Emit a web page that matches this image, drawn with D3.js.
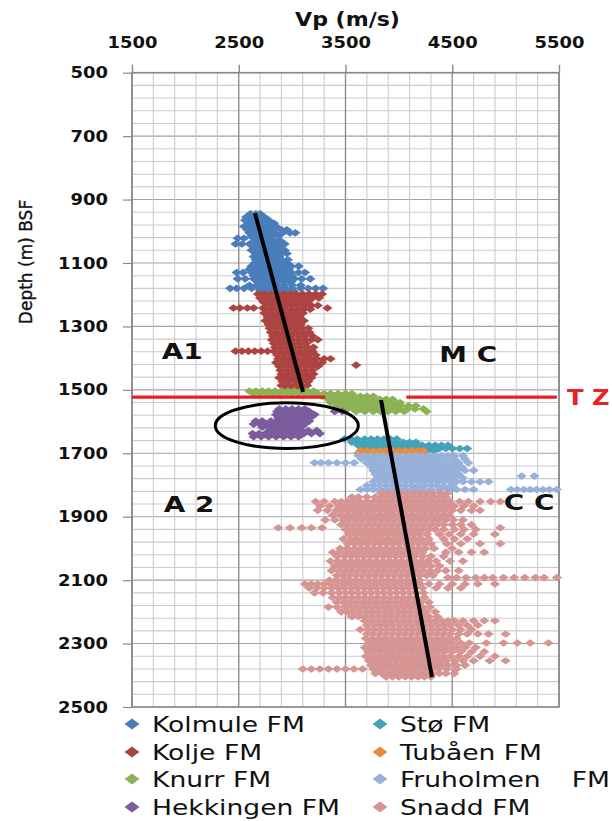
<!DOCTYPE html>
<html>
<head>
<meta charset="utf-8">
<script src="https://cdn.jsdelivr.net/npm/d3@7"></script>
<style>
  html, body { margin: 0; padding: 0; background: #fff; }
  svg { display: block; }
</style>
</head>
<body>
<svg id="chart" width="612" height="821"></svg>
<script>
// P-wave velocity against depth below sea floor, one array per formation.
// Each row: [depth (m BSF), [Vp samples (m/s) logged at that depth]]
const kolmule = [
  [945, [2610, 2660, 2700]],
  [955, [2570, 2630, 2690, 2740]],
  [965, [2560, 2610, 2670, 2720, 2780]],
  [975, [2590, 2650, 2700, 2760, 2830]],
  [985, [2550, 2610, 2660, 2720, 2790, 2850]],
  [995, [2580, 2640, 2700, 2760, 2820, 2900, 2950]],
  [1005, [2600, 2660, 2720, 2780, 2840, 2910, 2980, 3030]],
  [1015, [2620, 2680, 2740, 2800, 2870]],
  [1022, [2490, 2550, 2640, 2700, 2760]],
  [1030, [2650, 2710, 2770, 2830, 2890]],
  [1040, [2470, 2530, 2600, 2690, 2750, 2810, 2870, 2930]],
  [1050, [2640, 2700, 2760, 2820, 2880]],
  [1060, [2620, 2680, 2740, 2800, 2860, 2930]],
  [1070, [2660, 2720, 2780, 2840, 2900, 2950]],
  [1080, [2640, 2700, 2760, 2820, 2880]],
  [1090, [2660, 2720, 2780, 2840, 2900, 2960]],
  [1100, [2650, 2710, 2770, 2830, 2890, 2950]],
  [1110, [2620, 2680, 2740, 2800, 2860, 2920, 2990, 3060]],
  [1120, [2600, 2660, 2720, 2780, 2840, 2900, 2970]],
  [1130, [2480, 2540, 2620, 2680, 2740, 2800, 2860, 2920, 2990, 3060, 3120]],
  [1140, [2640, 2700, 2760, 2820, 2880, 2940, 3000]],
  [1150, [2490, 2560, 2640, 2710, 2770, 2830, 2890, 2950, 3020, 3090, 3170]],
  [1160, [2680, 2740, 2800, 2860, 2920, 2990]],
  [1170, [2600, 2670, 2740, 2800, 2860, 2930, 3000, 3080]],
  [1180, [2420, 2480, 2550, 2620, 2690, 2750, 2810, 2870, 2930, 3000, 3080, 3150, 3220, 3290]],
  [1188, [2700, 2760, 2820, 2880, 2940, 3010]]
];

const kolje = [
  [1198, [2680, 2740, 2800, 2860, 2920, 2980, 3040, 3100, 3160, 3220, 3280]],
  [1210, [2700, 2760, 2820, 2880, 2940, 3000, 3060, 3120, 3190, 3250]],
  [1222, [2730, 2790, 2850, 2910, 2970, 3030, 3090, 3150]],
  [1234, [2760, 2820, 2880, 2940, 3000, 3060, 3120, 3180, 3240]],
  [1242, [2450, 2510, 2580, 2640, 2730, 3330]],
  [1246, [2750, 2810, 2870, 2930, 2990, 3050, 3110, 3170]],
  [1258, [2740, 2800, 2860, 2920, 2980, 3040, 3100]],
  [1270, [2770, 2830, 2890, 2950, 3010, 3070]],
  [1282, [2750, 2810, 2870, 2930, 2990, 3050, 3110]],
  [1294, [2780, 2840, 2900, 2960, 3020, 3080]],
  [1306, [2790, 2850, 2910, 2970, 3030, 3090, 3150]],
  [1318, [2800, 2860, 2920, 2980, 3040, 3100, 3160]],
  [1330, [2820, 2880, 2940, 3000, 3060, 3120, 3190]],
  [1342, [2810, 2870, 2930, 3000, 3060, 3120, 3180, 3240]],
  [1354, [2830, 2890, 2950, 3010, 3070, 3130]],
  [1366, [2840, 2900, 2960, 3020, 3080, 3140, 3200]],
  [1378, [2470, 2530, 2590, 2650, 2710, 2770, 2830, 2890, 2950, 3010, 3070, 3130, 3190]],
  [1390, [2860, 2920, 2980, 3040, 3100, 3160, 3220]],
  [1402, [2870, 2930, 2990, 3050, 3110, 3170, 3230, 3300, 3360]],
  [1414, [2850, 2910, 2970, 3030, 3090, 3150, 3210, 3280]],
  [1422, [3600]],
  [1426, [2880, 2940, 3000, 3060, 3120, 3180, 3240]],
  [1438, [2890, 2950, 3010, 3070, 3130, 3190]],
  [1450, [2900, 2960, 3020, 3080, 3140, 3200]],
  [1462, [2880, 2940, 3000, 3060, 3120, 3180]],
  [1474, [2910, 2970, 3030, 3090, 3150]],
  [1486, [2900, 2960, 3020, 3080, 3140]],
  [1498, [2930, 2990, 3050, 3110]]
];

const knurr = [
  [1504, [2600, 2660, 2720, 2780, 2840, 2900, 2960, 3020, 3080, 3140, 3200]],
  [1512, [2640, 2700, 2760, 2820, 2880, 2940, 3000, 3060, 3120, 3180, 3240, 3300, 3360, 3430, 3500, 3560]],
  [1520, [3280, 3340, 3400, 3460, 3520, 3580, 3640, 3700, 3760]],
  [1530, [3340, 3400, 3460, 3520, 3580, 3640, 3700, 3760, 3820, 3880, 3940]],
  [1540, [3360, 3420, 3480, 3540, 3600, 3660, 3720, 3780, 3840, 3900, 3960, 4010]],
  [1550, [3420, 3480, 3540, 3600, 3660, 3720, 3780, 3840, 3900, 3960, 4020, 4090, 4160]],
  [1560, [3460, 3520, 3580, 3640, 3700, 3760, 3820, 3880, 3940, 4010, 4080, 4150, 4230]],
  [1568, [3600, 3680, 3760, 3830, 3900, 3970, 4050, 4260]]
];

const hekkingen = [
  [1560, [2880, 2940, 3000, 3060, 3120]],
  [1568, [2860, 2920, 2980, 3040, 3100, 3160, 3400, 3470]],
  [1578, [2850, 2910, 2970, 3030, 3090, 3150, 3210]],
  [1588, [2870, 2930, 2990, 3050, 3110, 3170]],
  [1598, [2660, 2720, 2800, 2860, 2920, 2980, 3040, 3100, 3160]],
  [1608, [2640, 2700, 2760, 2820, 2880, 2940, 3000, 3060, 3120]],
  [1618, [2720, 2780, 2840, 2900, 2960, 3020, 3080]],
  [1628, [2790, 2850, 2910, 2970, 3030, 3090, 3150, 3230]],
  [1638, [2630, 2690, 2750, 2810, 2870, 2930, 2990, 3050, 3110, 3180, 3260]],
  [1648, [2640, 2710, 2780, 2850, 2920, 2990, 3060]]
];

const sto = [
  [1655, [3490, 3550, 3610, 3680, 3740, 3800, 3860, 3920, 3980]],
  [1665, [3560, 3620, 3680, 3740, 3800, 3860, 3920, 3980, 4040, 4100, 4160]],
  [1675, [3620, 3680, 3740, 3800, 3860, 3920, 3980, 4040, 4100, 4160, 4220, 4280, 4340, 4400, 4460]],
  [1685, [3660, 3720, 3780, 3840, 3900, 3960, 4020, 4080, 4140, 4200, 4260, 4320, 4380, 4440, 4500, 4570, 4640]],
  [1693, [3900, 3960, 4020, 4080, 4140, 4200, 4260, 4330]]
];

const tubaen = [
  [1692, [3640, 3700, 3760, 3820, 3880, 3940, 4000, 4060, 4120, 4180, 4230]],
  [1700, [3620, 3680, 3740, 3800, 3860, 3920, 3980, 4040, 4100, 4160, 4220]]
];

const fruholmen = [
  [1708, [3620, 3680, 3740, 3800, 3860, 3920, 3980, 4040, 4100, 4160, 4220, 4280, 4340, 4400, 4460, 4520, 4600]],
  [1718, [3650, 3710, 3770, 3830, 3890, 3950, 4010, 4070, 4130, 4190, 4250, 4310, 4370, 4440, 4520, 4620]],
  [1730, [3210, 3270, 3340, 3420, 3500, 3580, 3700, 3760, 3820, 3880, 3940, 4000, 4060, 4120, 4180, 4240, 4300, 4360, 4420, 4490, 4560, 4650]],
  [1742, [3740, 3800, 3860, 3920, 3980, 4040, 4100, 4160, 4220, 4280, 4340, 4400, 4460, 4520, 4580]],
  [1754, [3760, 3820, 3880, 3940, 4000, 4060, 4120, 4180, 4240, 4300, 4360, 4420, 4480, 4540, 4620, 4700]],
  [1766, [3780, 3840, 3900, 3960, 4020, 4080, 4140, 4200, 4260, 4320, 4380, 4440, 4500, 4560]],
  [1772, [5150, 5270]],
  [1778, [3800, 3860, 3920, 3980, 4040, 4100, 4160, 4220, 4280, 4340, 4400, 4460, 4530, 4600]],
  [1790, [3760, 3820, 3880, 3940, 4000, 4060, 4120, 4180, 4240, 4300, 4360, 4420, 4480, 4540, 4600, 4680, 4760, 4840]],
  [1802, [3700, 3760, 3820, 3880, 3940, 4000, 4060, 4120, 4180, 4240, 4300, 4360, 4420, 4500]],
  [1814, [3640, 3700, 3760, 3820, 3880, 3940, 4000, 4060, 4140, 4220, 4300, 4380, 4460, 4540, 4620, 4700, 5050, 5110, 5170, 5230, 5290, 5350, 5410, 5480]],
  [1824, [3830, 3890, 3950, 4010, 4070, 4130, 4190]]
];

const snadd = [
  [1826, [3840, 3900, 3960, 4020, 4080, 4140, 4200, 4260, 4320, 4390, 4450]],
  [1838, [3560, 3620, 3700, 3780, 3840, 3900, 3960, 4020, 4080, 4140, 4200, 4260, 4320, 4380, 4440]],
  [1852, [3220, 3300, 3400, 3460, 3520, 3580, 3640, 3700, 3760, 3820, 3880, 3940, 4000, 4060, 4120, 4180, 4240, 4300, 4360, 4420, 4480, 4570, 4650, 4760, 4860, 4950]],
  [1866, [3260, 3350, 3440, 3500, 3560, 3620, 3680, 3740, 3800, 3860, 3920, 3980, 4040, 4100, 4160, 4220, 4280, 4340, 4400, 4460, 4520, 4610, 4700]],
  [1880, [3240, 3330, 3410, 3470, 3530, 3590, 3650, 3710, 3770, 3830, 3890, 3950, 4010, 4070, 4130, 4190, 4250, 4310, 4370, 4430, 4500, 4580, 4680, 4760]],
  [1895, [3380, 3450, 3510, 3570, 3630, 3690, 3750, 3810, 3870, 3930, 3990, 4050, 4110, 4170, 4230, 4290, 4350, 4410, 4470]],
  [1910, [3310, 3400, 3480, 3540, 3600, 3660, 3720, 3780, 3840, 3900, 3960, 4020, 4080, 4140, 4200, 4260, 4320, 4380, 4440, 4510, 4600]],
  [1925, [3460, 3520, 3580, 3640, 3700, 3760, 3820, 3880, 3940, 4000, 4060, 4120, 4180, 4240, 4300, 4360, 4420, 4500, 4580, 4680]],
  [1935, [2870, 2980, 3090, 3180, 3280, 4950]],
  [1940, [3500, 3560, 3620, 3680, 3740, 3800, 3860, 3920, 3980, 4040, 4100, 4160, 4220, 4280, 4340, 4420, 4520, 4610, 4720]],
  [1955, [3530, 3590, 3650, 3710, 3770, 3830, 3890, 3950, 4010, 4070, 4130, 4190, 4260, 4380, 4470, 4580, 4700, 4900]],
  [1970, [3480, 3550, 3610, 3670, 3730, 3790, 3850, 3910, 3970, 4030, 4090, 4150, 4210, 4280, 4420, 4520, 4640]],
  [1985, [3520, 3580, 3640, 3700, 3760, 3820, 3880, 3940, 4000, 4060, 4120, 4180, 4240, 4300, 4450, 4580, 4760, 4950]],
  [2000, [3450, 3520, 3590, 3650, 3710, 3770, 3830, 3890, 3950, 4010, 4070, 4130, 4190, 4250, 4330, 4500]],
  [2012, [3380, 3440, 3500, 3560, 3620, 3680, 3740, 3800, 3860, 3920, 3980, 4040, 4100, 4160, 4220, 4440, 4560, 4680, 4800]],
  [2025, [3420, 3490, 3550, 3610, 3670, 3730, 3790, 3850, 3910, 3970, 4030, 4090, 4150, 4220, 4300, 4420]],
  [2040, [3360, 3430, 3490, 3550, 3610, 3670, 3730, 3790, 3850, 3910, 3970, 4030, 4090, 4150, 4210, 4270, 4350, 4480, 4600]],
  [2055, [3400, 3460, 3520, 3580, 3640, 3700, 3760, 3820, 3880, 3940, 4000, 4060, 4120, 4180, 4240, 4300, 4380]],
  [2070, [3370, 3440, 3500, 3560, 3620, 3680, 3740, 3800, 3860, 3920, 3980, 4040, 4100, 4160, 4220, 4290, 4360, 4440, 4560]],
  [2085, [3420, 3480, 3540, 3600, 3660, 3720, 3780, 3840, 3900, 3960, 4020, 4080, 4140, 4200, 4260, 4320]],
  [2092, [4460, 4540, 4630, 4720, 4800, 4880, 4980, 5080, 5180, 5280, 5360, 5480]],
  [2100, [3350, 3410, 3470, 3530, 3590, 3650, 3710, 3770, 3830, 3890, 3950, 4010, 4070, 4130, 4190]],
  [2112, [3120, 3180, 3240, 3300, 3360, 3420, 3480, 3540, 3600, 3660, 3720, 3780, 3840, 3900, 3960, 4020, 4080, 4140, 4200, 4280, 4380, 4500, 4620, 4740, 4900]],
  [2125, [3160, 3230, 3300, 3370, 3430, 3490, 3550, 3610, 3670, 3730, 3790, 3850, 3910, 3970, 4030, 4090, 4150, 4220, 4350, 4460, 4580]],
  [2140, [3210, 3290, 3370, 3440, 3500, 3560, 3620, 3680, 3740, 3800, 3860, 3920, 3980, 4040, 4100, 4160, 4230]],
  [2155, [3380, 3440, 3500, 3560, 3620, 3680, 3740, 3800, 3860, 3920, 3980, 4040, 4100, 4160, 4240]],
  [2170, [3420, 3480, 3540, 3600, 3660, 3720, 3780, 3840, 3900, 3960, 4020, 4080, 4140, 4200, 4280]],
  [2185, [3340, 3420, 3500, 3560, 3620, 3680, 3740, 3800, 3860, 3920, 3980, 4040, 4100, 4160, 4220, 4290]],
  [2200, [3460, 3520, 3580, 3640, 3700, 3760, 3820, 3880, 3940, 4000, 4060, 4120, 4180, 4250, 4340]],
  [2215, [3560, 3620, 3680, 3740, 3800, 3860, 3920, 3980, 4040, 4100, 4160, 4220, 4280, 4360]],
  [2228, [3680, 3740, 3800, 3860, 3920, 3980, 4040, 4100, 4160, 4220, 4280, 4340, 4400, 4460, 4520, 4600, 4700, 4800, 4900]],
  [2242, [3700, 3760, 3820, 3880, 3940, 4000, 4060, 4120, 4180, 4240, 4300, 4360, 4420, 4480, 4560, 4640, 4740]],
  [2256, [3640, 3710, 3770, 3830, 3890, 3950, 4010, 4070, 4130, 4190, 4250, 4310, 4370, 4430, 4500, 4580, 4680]],
  [2270, [3700, 3760, 3820, 3880, 3940, 4000, 4060, 4120, 4180, 4240, 4300, 4360, 4420, 4480, 4560, 4640, 4740, 4840, 5000]],
  [2284, [3690, 3750, 3810, 3870, 3930, 3990, 4050, 4110, 4170, 4230, 4290, 4350, 4410, 4470, 4540]],
  [2298, [3720, 3780, 3840, 3900, 3960, 4020, 4080, 4140, 4200, 4260, 4320, 4380, 4440, 4500, 4580, 4660, 4820, 4980, 5110, 5230, 5400]],
  [2312, [3680, 3740, 3800, 3860, 3920, 3980, 4040, 4100, 4160, 4220, 4280, 4340, 4400, 4460, 4540, 4620, 4720]],
  [2326, [3710, 3770, 3830, 3890, 3950, 4010, 4070, 4130, 4190, 4250, 4310, 4370, 4430, 4500, 4580, 4680, 4800]],
  [2340, [3690, 3750, 3810, 3870, 3930, 3990, 4050, 4110, 4170, 4230, 4290, 4350, 4410, 4480, 4560, 4640, 4760, 4900]],
  [2354, [3720, 3780, 3840, 3900, 3960, 4020, 4080, 4140, 4200, 4260, 4320, 4380, 4440, 4520, 4600, 4700, 4850, 5000]],
  [2368, [3740, 3800, 3860, 3920, 3980, 4040, 4100, 4160, 4220, 4280, 4340, 4400, 4460, 4540, 4620]],
  [2380, [3100, 3180, 3260, 3340, 3420, 3500, 3580, 3660, 3760, 3820, 3880, 3940, 4000, 4060, 4120, 4180, 4240, 4300, 4370, 4450, 4540]],
  [2394, [3780, 3840, 3900, 3960, 4020, 4080, 4140, 4200, 4260, 4320, 4380, 4440, 4520]],
  [2405, [3880, 3940, 4000, 4060, 4120, 4180, 4240, 4300]]
];

const formationNames = ["Kolmule FM", "Kolje FM", "Knurr FM", "Hekkingen FM",
                        "Stø FM", "Tubåen FM", "Fruholmen   FM", "Snadd FM"];
const formationRows = [kolmule, kolje, knurr, hekkingen, sto, tubaen, fruholmen, snadd];

const vpTicks = [1500, 2500, 3500, 4500, 5500];
const depthTicks = [500, 700, 900, 1100, 1300, 1500, 1700, 1900, 2100, 2300, 2500];

// Velocity trends, [depth, Vp]
const trendUpper = [[943, 2652], [1507, 3102]];
const trendLower = [[1532, 3833], [2406, 4310]];

// Transition zone boundary depth and its two drawn spans in Vp
const tzDepth = 1523;
const tzSpans = [[1500, 3310], [4070, 5480]];

// Outlined Hekkingen anomaly: centre and half-extents
const anomaly = { vp: 2950, depth: 1613, vpHalf: 670, depthHalf: 72 };

// Zone annotations: text, Vp anchor, baseline depth
const zoneText  = ["A1", "M C", "T Z", "A 2", "C C"];
const zoneVp    = [1970, 4650, 5575, 2035, 5220];
const zoneDepth = [1403, 1412, 1548, 1886, 1880];

// ---------- styling / layout ----------
const colors = ["#4a7ebb", "#ad4441", "#8db255", "#7b5c9e", "#42a2b9", "#ec8b3c", "#97b1da", "#d69493"];
const stretch = 1.265;   // horizontal stretch applied to label text

const svg = d3.select("#chart");
const x = d3.scaleLinear().domain([1500, 5500]).range([132, 559]);
const y = d3.scaleLinear().domain([500, 2500]).range([72.7, 707]);

function widen(sel, f) {
  sel.each(function () {
    const w = this.getComputedTextLength();
    d3.select(this).attr("textLength", w * f).attr("lengthAdjust", "spacingAndGlyphs");
  });
}

// Grid
const grid = svg.append("g");
grid.selectAll("line.h").data(d3.range(500, 2501, 40)).join("line")
  .attr("x1", x(1500)).attr("x2", x(5500))
  .attr("y1", d => y(d)).attr("y2", d => y(d))
  .attr("stroke", d => (d - 500) % 200 === 0 ? "#a2a2a2" : "#cbcbcb")
  .attr("stroke-width", 1.1);
grid.selectAll("line.v").data(d3.range(1500, 5501, 200)).join("line")
  .attr("y1", y(500)).attr("y2", y(2500))
  .attr("x1", d => x(d)).attr("x2", d => x(d))
  .attr("stroke", d => (d - 1500) % 1000 === 0 ? "#8e8e8e" : "#cbcbcb")
  .attr("stroke-width", d => (d - 1500) % 1000 === 0 ? 1.4 : 1.1);
grid.append("rect")
  .attr("x", x(1500)).attr("y", y(500))
  .attr("width", x(5500) - x(1500)).attr("height", y(2500) - y(500))
  .attr("fill", "none").attr("stroke", "#8a8a8a").attr("stroke-width", 1.6);

// Axes
const topAxis = svg.append("g").attr("transform", `translate(0,${y(500)})`)
  .call(d3.axisTop(x).tickValues(vpTicks).tickSize(8).tickPadding(17).tickFormat(d3.format("d")));
topAxis.select(".domain").remove();
topAxis.selectAll("line").attr("stroke", "#8a8a8a").attr("stroke-width", 1.4);
topAxis.attr("font-family", "DejaVu Sans").attr("font-size", 16).attr("font-weight", "bold");
topAxis.selectAll("text").attr("fill", "#111");
widen(topAxis.selectAll("text"), 1.12);

const leftAxis = svg.append("g").attr("transform", `translate(${x(1500)},0)`)
  .call(d3.axisLeft(y).tickValues(depthTicks).tickSize(9).tickPadding(15).tickFormat(d3.format("d")));
leftAxis.select(".domain").remove();
leftAxis.selectAll("line").attr("stroke", "#8a8a8a").attr("stroke-width", 1.2);
leftAxis.attr("font-family", "DejaVu Sans").attr("font-size", 16).attr("font-weight", "bold");
leftAxis.selectAll("text").attr("fill", "#111");
widen(leftAxis.selectAll("text"), 1.12);

// Axis titles
const vpTitle = svg.append("text")
  .attr("x", x(3500) + 2).attr("y", 26)
  .attr("text-anchor", "middle")
  .attr("font-family", "DejaVu Sans").attr("font-weight", "bold").attr("font-size", 19)
  .attr("fill", "#111").text("Vp (m/s)");
widen(vpTitle, 1.16);

// Depth title, centred at (32, 262), reading bottom to top
svg.append("g").attr("transform", "translate(32,262)")
  .append("text")
  .attr("transform", "rotate(-90)")
  .attr("text-anchor", "middle")
  .attr("font-family", "DejaVu Sans").attr("font-size", 17)
  .attr("fill", "#111").attr("stroke", "#111").attr("stroke-width", 0.35)
  .text("Depth (m) BSF");

// Scatter markers, drawn formation by formation
const diamond = "M0,-3.8L5.2,0L0,3.8L-5.2,0Z";
formationRows.forEach((rows, i) => {
  const pts = rows.flatMap(([depth, vps]) => vps.map(vp => ({ depth, vp })));
  svg.append("g").selectAll("path").data(pts).join("path")
    .attr("d", diamond)
    .attr("transform", p => `translate(${x(p.vp)},${y(p.depth)})`)
    .attr("fill", colors[i]);
});

// Transition zone line
svg.append("g").selectAll("line").data(tzSpans).join("line")
  .attr("x1", s => x(s[0])).attr("x2", s => x(s[1]))
  .attr("y1", y(tzDepth)).attr("y2", y(tzDepth))
  .attr("stroke", "#ec1c24").attr("stroke-width", 3.2);

// Trend lines
const trend = d3.line().x(d => x(d[1])).y(d => y(d[0]));
[trendUpper, trendLower].forEach(t => {
  svg.append("path").attr("d", trend(t))
    .attr("fill", "none").attr("stroke", "#000").attr("stroke-width", 4).attr("stroke-linecap", "butt");
});

// Anomaly outline
svg.append("ellipse")
  .attr("cx", x(anomaly.vp)).attr("cy", y(anomaly.depth))
  .attr("rx", x(anomaly.vp + anomaly.vpHalf) - x(anomaly.vp))
  .attr("ry", y(anomaly.depth + anomaly.depthHalf) - y(anomaly.depth))
  .attr("fill", "none").attr("stroke", "#000").attr("stroke-width", 3);

// Zone annotations
const zones = svg.append("g").selectAll("text").data(zoneText).join("text")
  .attr("x", (t, i) => x(zoneVp[i]))
  .attr("y", (t, i) => y(zoneDepth[i]))
  .attr("text-anchor", t => t === "T Z" ? "start" : "middle")
  .attr("font-family", "DejaVu Sans").attr("font-weight", "bold").attr("font-size", 22)
  .attr("fill", t => t === "T Z" ? "#e8202a" : "#111")
  .text(t => t);
widen(zones.filter(t => t !== "T Z"), stretch);
widen(zones.filter(t => t === "T Z"), 1.1);

// Legend: two columns of four
const legCols = [132, 380];
const legRows = [724, 752, 779, 807];
const legendRight = 610;
formationNames.forEach((name, i) => {
  const cx = legCols[Math.floor(i / 4)];
  const cy = legRows[i % 4];
  svg.append("path")
    .attr("d", "M0,-5.5L7.5,0L0,5.5L-7.5,0Z")
    .attr("transform", `translate(${cx},${cy})`)
    .attr("fill", colors[i]);
  const parts = name.split(/\s{2,}/);
  const t = svg.append("text")
    .attr("x", cx + 20).attr("y", cy + 8)
    .attr("font-family", "DejaVu Sans").attr("font-size", 21).attr("fill", "#111")
    .text(parts[0]);
  widen(t, stretch);
  if (parts.length > 1) {
    const t2 = svg.append("text")
      .attr("x", legendRight).attr("y", cy + 8).attr("text-anchor", "end")
      .attr("font-family", "DejaVu Sans").attr("font-size", 21).attr("fill", "#111")
      .text(parts[1]);
    widen(t2, stretch);
  }
});
</script>
</body>
</html>
